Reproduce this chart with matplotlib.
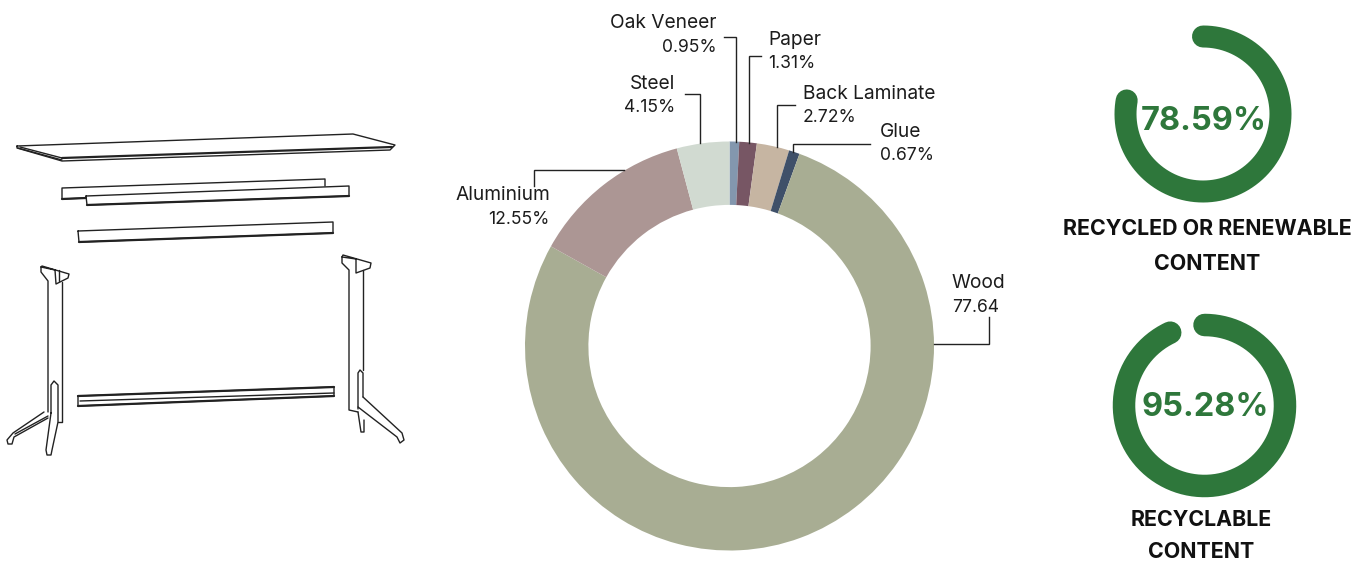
import numpy as np
import matplotlib
matplotlib.use("Agg")
import matplotlib.pyplot as plt

plt.rcParams['font.family'] = ['Inter', 'DejaVu Sans']

materials = ["Oak Veneer", "Paper", "Back Laminate", "Glue", "Wood", "Aluminium", "Steel"]
# slice sizes as measured off the arc, the printed labels are kept separately
arc_shares = [0.76, 1.38, 2.57, 0.85, 77.54, 12.75, 4.15]
share_labels = ["0.95%", "1.31%", "2.72%", "0.67%", "77.64", "12.55%", "4.15%"]
colors = ["#8397AE", "#775664", "#C6B5A2", "#3F5069", "#A8AD93", "#AC9694", "#D1DAD1"]

gauge_labels = ["78.59%", "95.28%"]
gauge_arcs = [77.8, 93.0]
gauge_titles = [["RECYCLED OR RENEWABLE", "CONTENT"], ["RECYCLABLE", "CONTENT"]]

W, H = 1370, 563
fig = plt.figure(figsize=(W/100.0, H/100.0), dpi=100)

# donut gets its own axes, placed in pixels
cx, cy, R = 729.5, 346, 204.5
pie_ax = fig.add_axes([(cx-R)/W, 1-(cy+R)/H, 2*R/W, 2*R/H])
pie_ax.pie(arc_shares, colors=colors, startangle=90, counterclock=False, radius=1,
           wedgeprops={'width': 0.31, 'linewidth': 0})
pie_ax.set_xlim(-1, 1)
pie_ax.set_ylim(-1, 1)

# everything else is drawn in image pixels
ax = fig.add_axes([0, 0, 1, 1])
ax.set_xlim(0, W)
ax.set_ylim(H, 0)
ax.axis('off')
ax.patch.set_alpha(0)

# label position, alignment and leader line for each slice
label_pos = {
    "Oak Veneer": (717, 23, 'right', [(724, 37), (736, 37), (736, 142)]),
    "Paper": (768, 40, 'left', [(761, 56), (749, 56), (749, 143)]),
    "Back Laminate": (803, 94, 'left', [(795, 105), (777, 105), (777, 147)]),
    "Glue": (880, 132, 'left', [(870, 144), (793, 144), (793, 152)]),
    "Wood": (952, 283, 'left', [(989, 317), (989, 344), (934, 344)]),
    "Aluminium": (550, 195, 'right', [(534, 186), (534, 170), (624, 170)]),
    "Steel": (675, 84, 'right', [(685, 94), (700, 94), (700, 143)]),
}
for name, pct in zip(materials, share_labels):
    x, y, ha, leader = label_pos[name]
    ax.text(x, y, name, ha=ha, va='center', fontsize=13.8, color='#1c1c1c')
    ax.text(x, y+24, pct, ha=ha, va='center', fontsize=12.6, color='#1c1c1c')
    ax.plot(*zip(*leader), color='#222222', lw=1.0, solid_joinstyle='miter')

# progress rings
ring_geom = [(1203, 114, 77.5, 22), (1204.5, 405.5, 80.5, 22.5)]
ring_text_y = [121, 407]
title_pos = [(1207, 229, 264), (1201, 520, 552)]
for val, lab, (gx, gy, r, w), ty, titles, (tx, ty1, ty2) in zip(gauge_arcs, gauge_labels, ring_geom, ring_text_y, gauge_titles, title_pos):
    theta = np.linspace(0, 2*np.pi*val/100.0, 300)
    ax.plot(gx+r*np.sin(theta), gy-r*np.cos(theta), color='#2E773B', lw=w*0.72,
            solid_capstyle='round')
    ax.text(gx+1, ty, lab, ha='center', va='center', fontsize=23.4,
            fontweight='bold', color='#2E773B')
    ax.text(tx, ty1, titles[0], ha='center', va='center', fontsize=15.4, fontweight='bold', color='#111111')
    ax.text(tx, ty2, titles[1], ha='center', va='center', fontsize=15.4, fontweight='bold', color='#111111')

# exploded table line drawing
table_paths = [
    # top
    [(17, 146), (353, 134), (395, 145), (390, 150), (62, 161), (17, 148), (17, 146)],
    [(18, 148), (62, 160)], [(20, 147), (62, 158)],
    # rails
    [(86, 198), (62, 199), (62, 188), (325, 179), (325, 186)],
    [(86, 196), (349, 186), (349, 196), (87, 205), (86, 196)],
    [(78, 231), (333, 222), (333, 233), (79, 242), (78, 231)],
    [(78, 396), (334, 387), (334, 396), (78, 406), (78, 396)],
    [(80, 401), (334, 393)],
    # left leg
    [(41, 267), (42, 266), (69, 274), (68, 278), (56, 284), (55, 270), (41, 267)],
    [(41, 267), (41, 272), (48, 281), (48, 412)],
    [(62, 282), (62, 422), (58, 422)],
    [(59, 270), (59, 281)],
    [(51, 413), (51, 385), (54, 381), (58, 385), (58, 422), (52, 450), (51, 455), (47, 455), (46, 450), (51, 413)],
    [(44, 412), (13, 433), (7, 440), (8, 444), (12, 444), (14, 437), (48, 418)],
    [(15, 434), (48, 416)],
    # right leg
    [(342, 257), (343, 255), (371, 263), (370, 268), (356, 273), (356, 259), (342, 257)],
    [(342, 257), (342, 263), (349, 270), (349, 410), (358, 412)],
    [(363, 270), (363, 370)],
    [(358, 409), (358, 373), (360, 370), (363, 373), (363, 397)],
    [(363, 397), (402, 433), (404, 440), (400, 443), (397, 437), (358, 407)],
    [(358, 412), (361, 432), (364, 432), (364, 420)],
]
for p in table_paths:
    ax.plot(*zip(*p), color='#222222', lw=1.0, solid_joinstyle='round', solid_capstyle='round')
# heavier front edges
heavy_paths = [
    [(62, 158), (392, 147)],
    [(62, 199), (86, 198)], [(87, 205), (349, 196)], [(79, 242), (333, 233)],
    [(78, 406), (334, 396)], [(78, 396), (334, 387)],
]
for p in heavy_paths:
    ax.plot(*zip(*p), color='#222222', lw=1.6, solid_capstyle='round')

fig.savefig("out.png", dpi=100, facecolor='white')
